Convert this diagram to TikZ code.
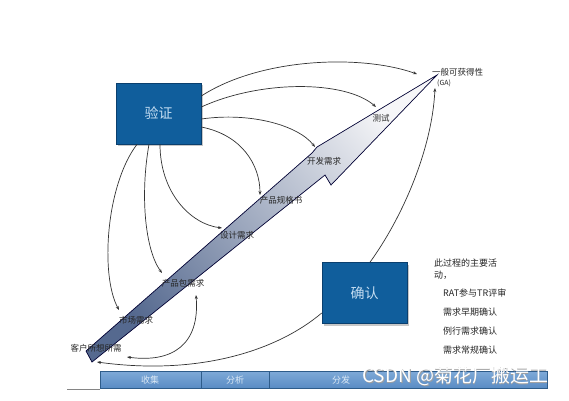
\documentclass[tikz,border=0pt]{standalone}
\usepackage{fontspec}
\setmainfont{Noto Sans CJK SC}
\usetikzlibrary{arrows.meta,shadows}
\definecolor{boxblue}{HTML}{105E9C}
\definecolor{boxedge}{HTML}{0A3F6E}
\definecolor{boxtext}{HTML}{C4DDF2}
\definecolor{barblue}{HTML}{5A8CC4}
\definecolor{barlight}{HTML}{7FAAD8}
\definecolor{baredge}{HTML}{2E5C8A}
\definecolor{bartext}{HTML}{DCE9F5}
\definecolor{arrdark}{HTML}{55698F}
\definecolor{arrmid}{HTML}{A4B0C8}
\definecolor{arrlight}{HTML}{F6F6F8}
\definecolor{lineg}{HTML}{333333}
\tikzset{
  phasebox/.style={draw=boxedge, line width=0.6pt, fill=boxblue, minimum width=85pt, minimum height=61pt,
    text=boxtext, font=\fontsize{14}{16}\selectfont, inner sep=0pt,
    drop shadow={shadow xshift=2pt, shadow yshift=-2pt, fill=gray!55, opacity=0.8}},
  lbl/.style={font=\fontsize{8.5}{10}\selectfont, text=black!85, inner sep=0pt},
  note/.style={font=\fontsize{9}{11}\selectfont, text=black!85, inner sep=0pt, anchor=west},
  link/.style={draw=lineg, line width=0.7pt, -{Stealth[length=4pt,width=3pt]}},
  barcell/.style={draw=baredge, line width=0.6pt, top color=barlight, bottom color=barblue},
  bartxt/.style={font=\fontsize{9}{11}\selectfont, text=bartext, inner sep=0pt},
  wmark/.style={font=\fontsize{19}{21}\selectfont, anchor=west, inner sep=0pt}
}
\begin{document}
\begin{tikzpicture}[x=1pt,y=-1pt]
\useasboundingbox[fill=white] (0,0) rectangle (569,400);

% big arrow
\draw[draw=black!80!blue, line width=0.7pt, bottom color=arrdark, middle color=arrmid, top color=arrlight, shading angle=-50]
  (86,351) -- (312,153) -- (317,147) -- (437,75) -- (331,185) -- (325,175) -- (92,362) -- cycle;

% bottom bar
\draw[lineg!60, line width=0.6pt] (67,389) -- (100,389);
\draw[barcell] (100,371) rectangle (201,388);
\draw[barcell] (201,371) rectangle (269,388);
\draw[barcell] (269,371) rectangle (547,388);
\node[bartxt] (sj) at (150,380) {收集};
\node[bartxt] (fx) at (235,380) {分析};
\node[bartxt] (ff) at (341,380) {分发};

% boxes
\node[phasebox] (yz) at (158.5,113.5) {验证};
\node[phasebox] (qr) at (364.5,293) {确认};

% labels along arrow
\node[lbl, anchor=west] (ga) at (432,72) {一般可获得性};
\node[lbl, font=\fontsize{7}{8}\selectfont, anchor=west] (gab) at (437,83) {(GA)};
\node[lbl] (cs) at (381,118) {测试};
\node[lbl] (kf) at (324,161) {开发需求};
\node[lbl] (gg) at (281,200) {产品规格书};
\node[lbl] (sj2) at (237,235) {设计需求};
\node[lbl] (bq) at (183,283) {产品包需求};
\node[lbl] (sc) at (136,320) {市场需求};
\node[lbl] (kh) at (96,348) {客户所想所需};

% arrow end coordinates
\coordinate (eGA) at (417,74);
\coordinate (eCS) at (376,107);
\coordinate (eKF) at (315,147);
\coordinate (eGG) at (260,195);
\coordinate (eSJ) at (222,228);
\coordinate (eBQ) at (162,273);
\coordinate (eSC) at (119,310);
\coordinate (eGA2) at (435,88);
\coordinate (eKH) at (97,362);
\coordinate (eKH2) at (127,357);
\coordinate (eBQ2) at (196,295);

% connectors from 验证
\draw[link] (yz.east |- 0,96) .. controls (260,58) and (360,54) .. (eGA);
\draw[link] (yz.east |- 0,107) .. controls (260,80) and (345,80) .. (eCS);
\draw[link] (yz.east |- 0,119) .. controls (250,112) and (298,125) .. (eKF);
\draw[link] (yz.east |- 0,127) .. controls (242,135) and (260,165) .. (eGG);
\draw[link] (yz.south -| 160,0) .. controls (160,192) and (190,224) .. (eSJ);
\draw[link] (yz.south -| 149,0) .. controls (140,195) and (145,250) .. (eBQ);
\draw[link] (yz.south -| 137,0) .. controls (106,185) and (100,275) .. (eSC);

% connectors from 确认
\draw[link] (qr.north -| 370,0) .. controls (402,218) and (432,150) .. (eGA2);
\draw[link] (qr.west |- 0,313) .. controls (278,350) and (200,376) .. (eKH);

% loop between 客户所想所需 and 产品包需求
\draw[link, {Stealth[length=4pt,width=3pt]}-{Stealth[length=4pt,width=3pt]}] (eKH2) .. controls (172,363) and (200,345) .. (eBQ2);

% notes
\node[note] (n1) at (434,263) {此过程的主要活};
\node[note] (n2) at (434,275) {动，};
\node[note] (n3) at (443,293) {RAT参与TR评审};
\node[note] (n4) at (443,312) {需求早期确认};
\node[note] (n5) at (443,331) {例行需求确认};
\node[note] (n6) at (443,350) {需求常规确认};

% watermark
\node[wmark, text=gray!75] (wm0) at (362.8,376.8) {CSDN @菊花厂搬运工};
\node[wmark, text=white] (wm) at (362,376) {CSDN @菊花厂搬运工};
\end{tikzpicture}
\end{document}
